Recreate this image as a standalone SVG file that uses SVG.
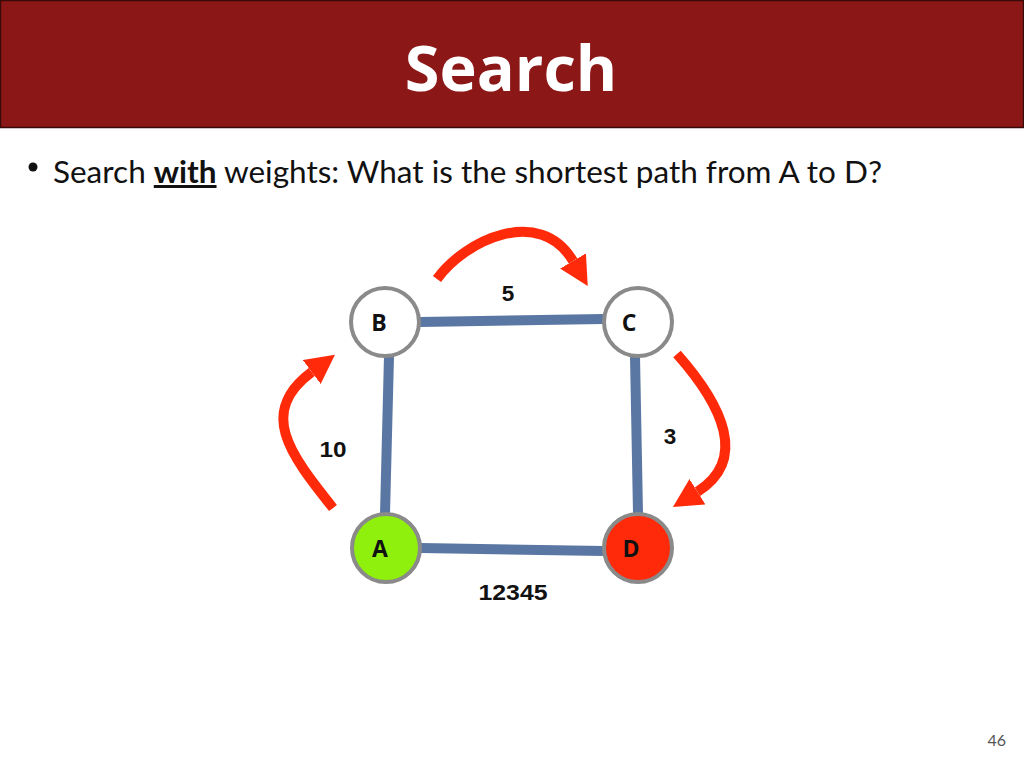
<svg xmlns="http://www.w3.org/2000/svg" width="1024" height="768" viewBox="0 0 1024 768">
<defs>
<style>
.edge{stroke:#5a77a3;stroke-width:10;fill:none}
.arrow{stroke:#ff2a0a;stroke-width:10;fill:none;marker-end:url(#head)}
.node{stroke:#8a8a8a;stroke-width:4}
.nl{font-family:"Open Sans","Liberation Sans",sans-serif;font-weight:bold;font-size:23px;fill:#111;text-anchor:middle}
.wl{font-family:"Liberation Sans",Arial,sans-serif;font-weight:bold;font-size:22.5px;fill:#111;text-anchor:middle}
</style>
<marker id="head" markerUnits="userSpaceOnUse" markerWidth="30" markerHeight="30" viewBox="0 0 30 30" refX="0" refY="15" orient="auto">
<path d="M0,0 L29,15 L0,30 Z" fill="#ff2a0a"/>
</marker>
</defs>
<rect width="1024" height="768" fill="#ffffff"/>
<g id="title">
<rect x="0.5" y="0.5" width="1023" height="127" fill="#8b1717" stroke="#3a0a0a" stroke-width="1.5"/>
<text x="511" y="91" font-family="'Open Sans','Liberation Sans',sans-serif" font-weight="bold" font-size="63" fill="#ffffff" text-anchor="middle">Search</text>
</g>
<g id="bullet">
<circle cx="33" cy="167" r="4.5" fill="#111"/>
<text x="53" y="183" font-family="Lato,'Liberation Sans',sans-serif" font-size="30" fill="#111" textLength="829" lengthAdjust="spacingAndGlyphs">Search <tspan font-weight="bold" text-decoration="underline">with</tspan> weights: What is the shortest path from A to D?</text>
</g>
<g id="connectors">
<line class="edge" x1="420" y1="322" x2="604" y2="319"/>
<line class="edge" x1="389" y1="356" x2="385" y2="514"/>
<line class="edge" x1="635" y1="356" x2="638" y2="513"/>
<line class="edge" x1="421" y1="548" x2="604" y2="551"/>
<path class="arrow" d="M437,279 C465,240 540,205 573,261"/>
<path class="arrow" d="M333,508 C289,453 258,412 311.7,372"/>
<path class="arrow" d="M677,354 C723,406 748,460 697.5,491.7"/>
</g>
<g id="labels">
<text class="wl" x="508" y="301">5</text>
<text class="wl" x="333" y="457" textLength="27" lengthAdjust="spacingAndGlyphs">10</text>
<text class="wl" x="670" y="444">3</text>
<text class="wl" x="513" y="600" textLength="69" lengthAdjust="spacingAndGlyphs">12345</text>
</g>
<g id="node-B">
<circle class="node" cx="385" cy="322" r="34" fill="#ffffff"/>
<text class="nl" x="379" y="331">B</text>
</g>
<g id="node-C">
<circle class="node" cx="638" cy="322" r="34" fill="#ffffff"/>
<text class="nl" x="629" y="331">C</text>
</g>
<g id="node-A">
<circle class="node" cx="386" cy="548" r="34" fill="#8ef00c"/>
<text class="nl" x="380" y="557">A</text>
</g>
<g id="node-D">
<circle class="node" cx="638" cy="548" r="34" fill="#ff2a0a"/>
<text class="nl" x="631" y="557">D</text>
</g>
<text x="1006" y="746" font-family="Lato,'Liberation Sans',sans-serif" font-size="16" fill="#555" text-anchor="end">46</text>
</svg>
